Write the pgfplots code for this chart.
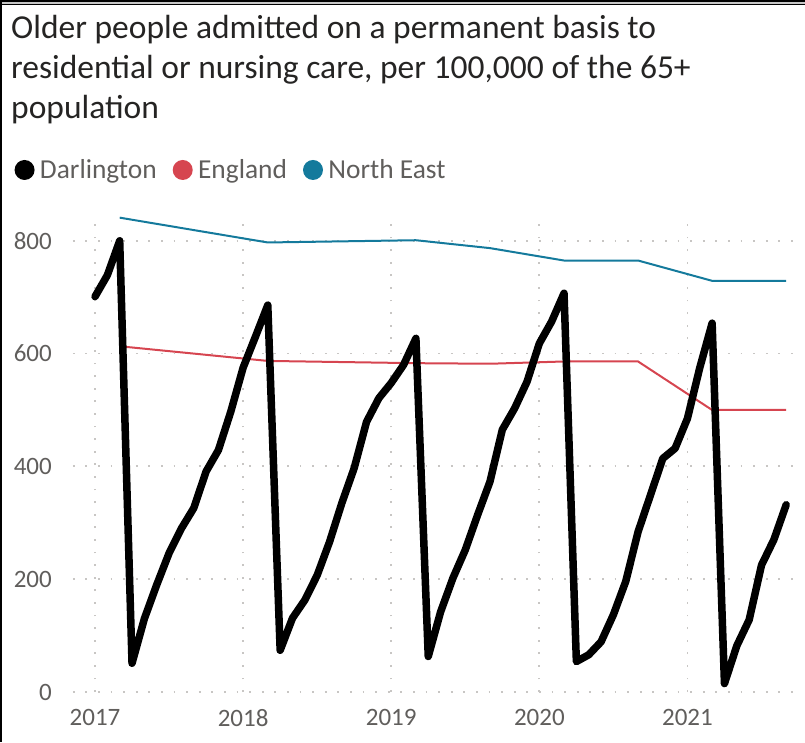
\documentclass[border=0pt]{standalone}
\usepackage{fontspec}
\setmainfont{Carlito}
\usepackage{pgfplots}
\pgfplotsset{compat=1.18}
\definecolor{eng}{RGB}{214,69,80}
\definecolor{ne}{RGB}{20,122,156}
\definecolor{gridc}{RGB}{200,198,196}
\definecolor{tickc}{RGB}{96,94,92}
\definecolor{titlec}{RGB}{37,36,35}
\begin{document}
\begin{tikzpicture}
\useasboundingbox (0pt,0pt) rectangle (805pt,-742pt);
\fill[gray!45] (0pt,0pt) rectangle (805pt,-5pt);
\draw[black,line width=1.6pt] (0pt,-0.8pt) -- (805pt,-0.8pt);
\draw[black,line width=1.4pt] (0pt,-4.3pt) -- (805pt,-4.3pt);
\draw[black,line width=1.5pt] (0.75pt,0pt) -- (0.75pt,-742pt);
\node[anchor=base west,inner sep=0pt,text=titlec,font=\fontsize{33.5}{40}\selectfont] at (11pt,-38pt) {Older people admitted on a permanent basis to};
\node[anchor=base west,inner sep=0pt,text=titlec,font=\fontsize{33.5}{40}\selectfont] at (11pt,-78pt) {residential or nursing care, per 100,000 of the 65+};
\node[anchor=base west,inner sep=0pt,text=titlec,font=\fontsize{33.5}{40}\selectfont] at (11pt,-118pt) {population};
\begin{axis}[
  at={(72.8pt,-692pt)}, anchor=south west,
  scale only axis, width=728.7pt, height=476.6pt,
  xmin=2016.85, xmax=2021.77, ymin=0, ymax=845,
  clip=false,
  axis line style={draw=none},
  major tick length=0pt,
  xtick={2017,2018,2019,2020,2021},
  xticklabels={2017,2018,2019,2020,2021},
  ytick={0,200,400,600,800},
  yticklabels={0,200,400,600,800},
  grid=major,
  grid style={gridc, line width=1.8pt, dash pattern=on 1.8pt off 10.8pt},
  ticklabel style={font=\fontsize{25}{30}\selectfont, text=tickc, inner sep=0pt},
  xticklabel style={anchor=north, yshift=-17pt},
  yticklabel style={anchor=east, xshift=-20.8pt},
  /pgf/number format/assume math mode=true,
  legend columns=3,
  legend image code/.code={\fill[#1,draw=none] (10pt,0pt) circle (10pt);},
  legend style={at={(-0.0799,1.0953)}, anchor=west, draw=none, fill=none,
    inner sep=0pt, outer sep=0pt,
    font=\fontsize{27.4}{30}\selectfont, text=tickc,
    nodes={inner sep=0pt},
    /tikz/every odd column/.append style={column sep=5.4pt},
    /tikz/every even column/.append style={column sep=16pt}},
]
\addlegendimage{black}\addlegendentry{Darlington}
\addlegendimage{eng}\addlegendentry{England}
\addlegendimage{ne}\addlegendentry{North East}

\addplot[eng, line width=2pt, forget plot] table[x expr=2017+\thisrow{m}/12, y=v] {
m v
2 613
14 587
26 583
32 582
38 586
44 586
50 500
56 500
};
\addplot[ne, line width=2pt, forget plot] table[x expr=2017+\thisrow{m}/12, y=v] {
m v
2 841
14 797
26 801
32 787
38 765
44 765
50 729
56 729
};
\addplot[black, line width=7.5pt, line join=round, line cap=round, forget plot] table[x expr=2017+\thisrow{m}/12, y=v] {
m v
0 701
1 739
2 800
3 51
4 130
5 190
6 246
7 290
8 326
9 391
10 429
11 497
12 575
13 630
14 686
15 74
16 131
17 163
18 207
19 266
20 335
21 397
22 479
23 521
24 548
25 580
26 627
27 63
28 142
29 202
30 252
31 314
32 373
33 465
34 503
35 550
36 618
37 657
38 707
39 54
40 66
41 89
42 137
43 196
44 284
45 349
46 414
47 432
48 485
49 575
50 654
51 15
52 82
53 128
54 225
55 270
56 332
};
\end{axis}
\end{tikzpicture}
\end{document}
